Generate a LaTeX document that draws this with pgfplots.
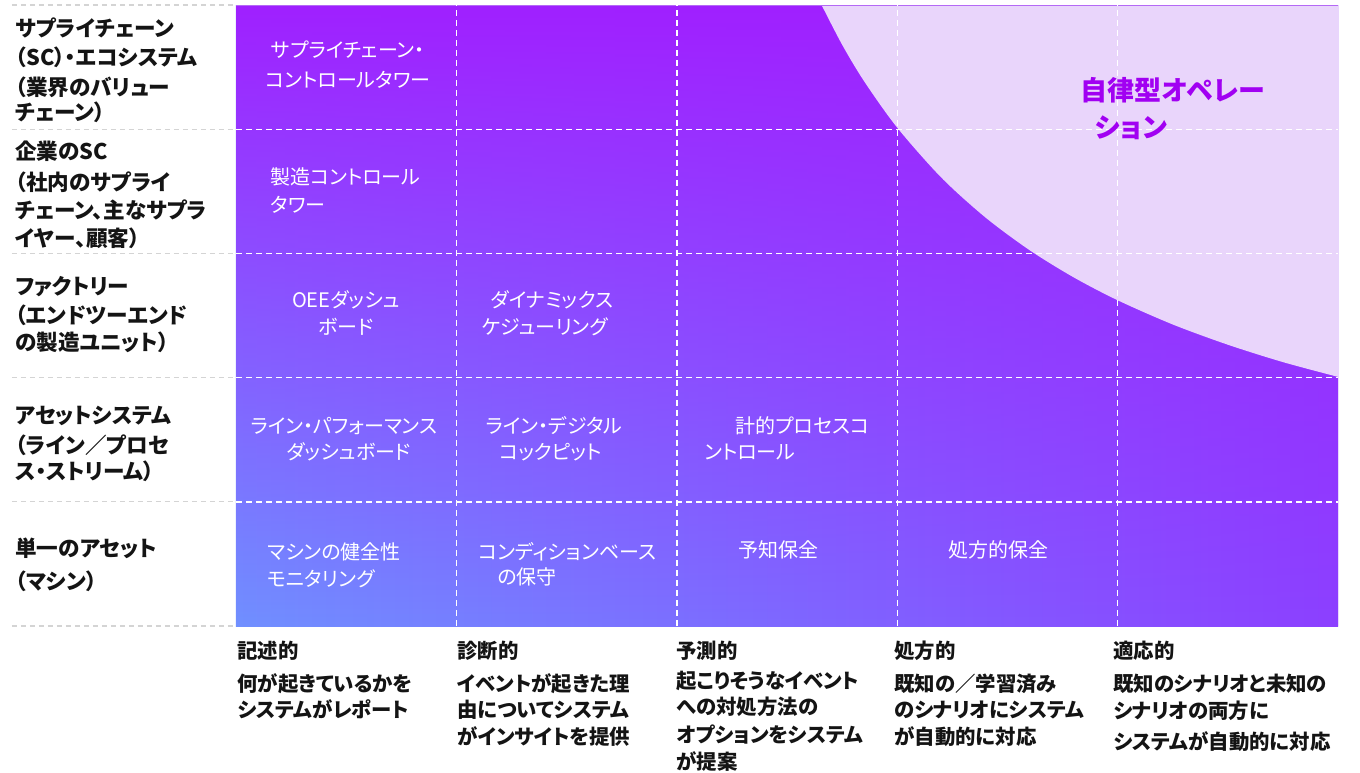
\documentclass[border=0pt]{standalone}
\usepackage{pgfplots}
\pgfplotsset{compat=1.18}
\usepackage{fontspec}
\setmainfont{Noto Sans CJK JP}[RawFeature=+palt]
\usetikzlibrary{fadings}

\definecolor{gBlue}{HTML}{7090FF}
\definecolor{gRight}{HTML}{8C40FF}
\definecolor{gTop}{HTML}{A020FF}
\definecolor{lav}{HTML}{E9D5FB}
\definecolor{deep}{HTML}{A100F2}
\definecolor{edge}{HTML}{B469F5}
\definecolor{sep}{HTML}{D4D4D4}

\tikzfading[name=fadeup, top color=transparent!0, bottom color=transparent!100]

% one line of text, anchored at its visual centre
\newcommand\tl[4][west]{\node[#2,anchor=#1] at (#3) {#4};}

\begin{document}
\begin{tikzpicture}
\begin{axis}[
    width=551pt, height=310.5pt, scale only axis,
    xmin=0, xmax=5, ymin=0, ymax=5,
    xtick={1,2,3,4}, ytick={1,2,3,4},
    xticklabels={}, yticklabels={},
    major tick length=0pt,
    grid=major,
    grid style={white, line width=0.7pt, dash pattern=on 3pt off 2pt},
    axis on top,
    axis line style={draw=none},
]
  % background gradient
  \addplot[draw=none, left color=gBlue, right color=gRight]
    coordinates {(0,0)(5,0)(5,5)(0,5)} -- cycle;
  \addplot[draw=none, fill=gTop, path fading=fadeup]
    coordinates {(0,0)(5,0)(5,5)(0,5)} -- cycle;
  % autonomous region (upper right, above the curve)
  \addplot[draw=none, fill=lav, smooth]
    coordinates {(2.657,5)(2.75,4.681)(2.85,4.386)(3.0,4.013)(3.2,3.611)
                 (3.4,3.29)(3.6,3.027)(3.8,2.808)(4.0,2.623)(4.25,2.428)
                 (4.5,2.265)(4.75,2.125)(5,2.006)} -- (axis cs:5,5) -- cycle;
  \draw[edge, line width=0.5pt] (rel axis cs:0,1) -- (rel axis cs:1,1) -- (rel axis cs:1,0);
\end{axis}

\begin{scope}[x=0.5pt, y=-0.5pt, shift={(-118pt,313pt)},
  lab/.style={font=\bfseries\fontsize{10.8pt}{13pt}\selectfont, text=black!92,
              inner sep=0pt, text height=9.5pt, text depth=1.3pt},
  bot/.style={font=\bfseries\fontsize{10.2pt}{12pt}\selectfont, text=black!92,
              inner sep=0pt, text height=9pt, text depth=1.2pt},
  cell/.style={font=\fontsize{10pt}{12pt}\selectfont, text=white,
              inner sep=0pt, text height=8.8pt, text depth=1.2pt},
  big/.style={font=\bfseries\fontsize{13.5pt}{16pt}\selectfont, text=deep,
              inner sep=0pt, text height=11.9pt, text depth=1.6pt}]

  \foreach \y in {5,129.2,253.4,377.6,501.8,626}
    \draw[sep, line width=0.6pt, dash pattern=on 2.5pt off 2pt] (12,\y) -- (236,\y);

  % row labels
  \tl{lab}{15,28}{サプライチェーン}
  \tl{lab}{15,57}{（SC）・エコシステム}
  \tl{lab}{15,87}{（業界のバリュー}
  \tl{lab}{15,112}{チェーン）}
  \tl{lab}{15,151}{企業のSC}
  \tl{lab}{15,182}{（社内のサプライ}
  \tl{lab}{15,210}{チェーン、主なサプラ}
  \tl{lab}{15,238}{イヤー、顧客）}
  \tl{lab}{15,286}{ファクトリー}
  \tl{lab}{15,315}{（エンドツーエンド}
  \tl{lab}{15,342}{の製造ユニット）}
  \tl{lab}{15,415}{アセットシステム}
  \tl{lab}{15,445}{（ライン／プロセ}
  \tl{lab}{15,471}{ス・ストリーム）}
  \tl{lab}{15,548}{単一のアセット}
  \tl{lab}{15,581}{（マシン）}

  % column labels
  \tl{bot}{237,651}{記述的}
  \tl{bot}{237,684}{何が起きているかを}
  \tl{bot}{237,710}{システムがレポート}
  \tl{bot}{457,651}{診断的}
  \tl{bot}{457,684}{イベントが起きた理}
  \tl{bot}{457,710}{由についてシステム}
  \tl{bot}{457,737}{がインサイトを提供}
  \tl{bot}{676,651}{予測的}
  \tl{bot}{676,681}{起こりそうなイベント}
  \tl{bot}{676,707}{への対処方法の}
  \tl{bot}{676,735}{オプションをシステム}
  \tl{bot}{676,762}{が提案}
  \tl{bot}{894,651}{処方的}
  \tl{bot}{894,684}{既知の／学習済み}
  \tl{bot}{894,710}{のシナリオにシステム}
  \tl{bot}{894,737}{が自動的に対応}
  \tl{bot}{1113,651}{適応的}
  \tl{bot}{1113,684}{既知のシナリオと未知の}
  \tl{bot}{1113,711}{シナリオの両方に}
  \tl{bot}{1113,742}{システムが自動的に対応}

  % cell texts
  \tl[center]{cell}{348,50}{サプライチェーン・}
  \tl[center]{cell}{348,80}{コントロールタワー}
  \tl{cell}{270,177}{製造コントロール}
  \tl{cell}{270,205}{タワー}
  \tl[center]{cell}{346,300}{OEEダッシュ}
  \tl[center]{cell}{346,327}{ボード}
  \tl[center]{cell}{552,300}{ダイナミックス}
  \tl[center]{cell}{545,327}{ケジューリング}
  \tl[center]{cell}{344,426}{ライン・パフォーマンス}
  \tl[center]{cell}{349,452}{ダッシュボード}
  \tl[center]{cell}{554,426}{ライン・デジタル}
  \tl[center]{cell}{551,452}{コックピット}
  \tl{cell}{735,426}{計的プロセスコ}
  \tl{cell}{704,452}{ントロール}
  \tl{cell}{267,552}{マシンの健全性}
  \tl{cell}{267,579}{モニタリング}
  \tl{cell}{478,552}{コンディションベース}
  \tl{cell}{497,577}{の保守}
  \tl[center]{cell}{778,550}{予知保全}
  \tl[center]{cell}{998,550}{処方的保全}

  \tl{big}{1080,90}{自律型オペレー}
  \tl{big}{1095,127}{ション}

  \pgfresetboundingbox
  \path (0,0) rectangle (1360,772);
\end{scope}
\end{tikzpicture}
\end{document}
